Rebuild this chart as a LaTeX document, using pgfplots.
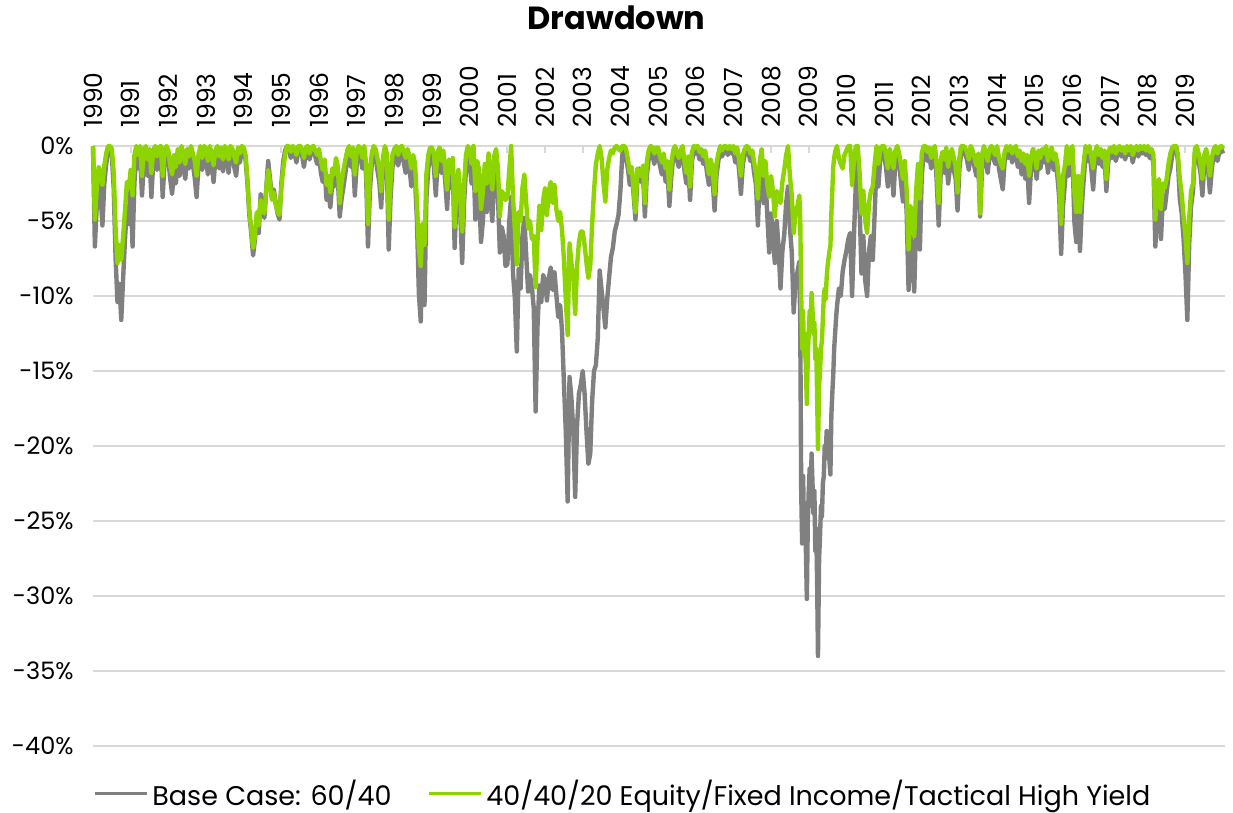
\documentclass[border=0pt]{standalone}
\usepackage{fontspec}
\setmainfont{Poppins}
\usepackage{pgfplots}
\pgfplotsset{compat=1.18}
\usepackage{pgfplotstable}
\definecolor{ggray}{RGB}{128,128,128}
\definecolor{ggreen}{RGB}{141,212,0}
\definecolor{gridc}{RGB}{217,217,217}

\pgfplotstableread{
x g n
1990.00 0 0
1990.05 -6.7 -4.9
1990.10 -4.0 -2.8
1990.15 -2.2 -1.4
1990.20 -3.2 -1.8
1990.25 -5.3 -2.6
1990.30 -2.5 -1.3
1990.35 -1.2 -0.5
1990.40 -0.3 0
1990.45 0 0
1990.50 -0.6 -0.2
1990.55 -2.8 -1.8
1990.60 -7.5 -5.5
1990.65 -10.4 -7.8
1990.70 -9.2 -6.6
1990.75 -11.6 -7.6
1990.80 -8.8 -6.0
1990.85 -6.2 -4.3
1990.90 -4.0 -2.4
1990.95 -5.2 -2.8
1991.00 -2.8 -1.6
1991.05 -6.7 -3.3
1991.10 -2.4 -0.6
1991.15 -0.7 0
1991.20 -1.5 -0.6
1991.25 -0.4 0
1991.30 -3.3 -2.0
1991.35 -1.2 -0.3
1991.40 -0.5 0
1991.45 -2.0 -0.9
1991.50 -0.8 -0.2
1991.55 -3.4 -1.8
1991.60 -1.0 -0.3
1991.65 -0.3 0
1991.70 -1.6 -0.7
1991.75 -0.6 -0.1
1991.80 -0.2 0
1991.85 -3.4 -2.0
1991.90 -1.0 -0.3
1991.95 -0.4 0
1992.00 -0.9 -0.3
1992.05 -2.2 -1.3
1992.10 -3.2 -1.9
1992.15 -1.4 -0.6
1992.20 -2.5 -1.4
1992.25 -0.8 -0.2
1992.30 -2.0 -1.1
1992.35 -0.6 0
1992.40 -1.4 -0.6
1992.45 -2.2 -1.2
1992.50 -0.7 -0.2
1992.55 -1.5 -0.7
1992.60 -0.4 0
1992.65 -1.2 -0.5
1992.70 -2.1 -1.0
1992.75 -3.4 -2.0
1992.80 -1.3 -0.6
1992.85 -0.6 0
1992.90 -1.6 -0.8
1992.95 -0.5 0
1993.00 -0.8 -0.2
1993.05 -1.9 -1.0
1993.10 -0.4 0
1993.15 -1.1 -0.5
1993.20 -2.4 -1.3
1993.25 -0.9 -0.3
1993.30 -0.3 0
1993.35 -1.5 -0.7
1993.40 -0.6 -0.1
1993.45 -1.7 -0.9
1993.50 -0.2 0
1993.55 -0.9 -0.3
1993.60 -1.8 -0.9
1993.65 -0.4 0
1993.70 -0.7 -0.2
1993.75 -1.4 -0.7
1993.80 -2.0 -1.1
1993.85 -0.6 -0.1
1993.90 -1.1 -0.5
1993.95 -0.3 0
1994.00 -0.4 -0.1
1994.05 -0.9 -0.6
1994.10 -2.5 -2.2
1994.15 -4.6 -4.3
1994.20 -5.8 -5.5
1994.25 -7.3 -6.8
1994.30 -6.2 -5.9
1994.35 -4.6 -4.4
1994.40 -5.8 -5.3
1994.45 -3.2 -3.6
1994.50 -4.0 -4.2
1994.55 -4.8 -4.5
1994.60 -2.8 -2.9
1994.65 -1.0 -1.6
1994.70 -2.2 -2.5
1994.75 -3.4 -3.6
1994.80 -2.9 -3.1
1994.85 -3.8 -3.9
1994.90 -4.5 -4.4
1994.95 -4.9 -4.6
1995.00 -2.5 -2.8
1995.05 -1.0 -1.5
1995.10 -0.3 -0.6
1995.15 0 0
1995.20 -0.2 0
1995.25 -0.8 -0.4
1995.30 -0.1 0
1995.35 -0.5 -0.2
1995.40 -1.1 -0.6
1995.45 -0.3 0
1995.50 0 0
1995.55 -0.6 -0.3
1995.60 -1.4 -0.8
1995.65 -0.4 -0.1
1995.70 -0.1 0
1995.75 -0.9 -0.5
1995.80 -0.3 -0.1
1995.85 0 0
1995.90 -0.7 -0.3
1995.95 -1.2 -0.6
1996.00 -0.6 -0.2
1996.05 -1.8 -1.0
1996.10 -2.4 -1.6
1996.15 -1.6 -0.9
1996.20 -3.6 -2.6
1996.25 -3.0 -2.0
1996.30 -4.1 -3.1
1996.35 -2.5 -1.5
1996.40 -2.7 -1.9
1996.45 -1.5 -0.8
1996.50 -2.2 -1.4
1996.55 -4.7 -3.8
1996.60 -3.5 -2.4
1996.65 -2.7 -1.6
1996.70 -1.8 -0.9
1996.75 -0.9 -0.3
1996.80 -0.4 0
1996.85 -1.4 -0.7
1996.90 -0.6 -0.1
1996.95 -3.3 -1.9
1997.00 -1.2 -0.4
1997.05 -0.3 0
1997.10 -0.6 -0.2
1997.15 -1.5 -0.8
1997.20 -0.4 0
1997.25 -2.0 -1.2
1997.30 -6.7 -5.2
1997.35 -3.0 -2.0
1997.40 -1.2 -0.5
1997.45 -0.2 0
1997.50 -0.7 -0.2
1997.55 -1.6 -0.8
1997.60 -2.4 -1.5
1997.65 -4.1 -3.0
1997.70 -1.5 -0.7
1997.75 -0.5 0
1997.80 -1.1 -0.5
1997.85 -6.9 -4.9
1997.90 -3.4 -2.3
1997.95 -1.4 -0.6
1998.00 -0.8 -0.2
1998.05 -0.3 0
1998.10 -1.3 -0.6
1998.15 -0.6 -0.1
1998.20 -0.2 0
1998.25 -1.1 -0.4
1998.30 -1.8 -0.8
1998.35 -0.7 -0.2
1998.40 -1.4 -0.7
1998.45 -2.7 -1.5
1998.50 -1.5 -0.6
1998.55 -2.2 -1.2
1998.60 -5.0 -3.8
1998.65 -9.8 -6.8
1998.70 -11.7 -8.0
1998.75 -6.7 -5.2
1998.80 -10.6 -6.6
1998.85 -3.5 -1.9
1998.90 -1.5 -0.6
1998.95 -0.8 -0.1
1999.00 -0.4 -0.1
1999.05 -1.4 -0.6
1999.10 -3.3 -2.0
1999.15 -1.0 -0.4
1999.20 -0.6 -0.1
1999.25 -1.8 -1.0
1999.30 -0.9 -0.3
1999.35 -2.3 -1.5
1999.40 -4.2 -2.9
1999.45 -1.6 -0.9
1999.50 -2.8 -1.8
1999.55 -1.2 -0.8
1999.60 -6.8 -5.4
1999.65 -3.5 -2.7
1999.70 -2.3 -1.6
1999.75 -4.5 -3.5
1999.80 -7.8 -5.7
1999.85 -3.8 -2.6
1999.90 -1.6 -0.6
1999.95 -0.6 0
2000.00 -1.2 -0.3
2000.05 -2.5 -1.2
2000.10 -0.8 0
2000.15 -4.9 -3.0
2000.20 -2.2 -1.0
2000.25 -3.0 -1.6
2000.30 -6.4 -4.2
2000.35 -5.0 -3.1
2000.40 -2.6 -1.2
2000.45 -4.4 -2.5
2000.50 -1.8 -0.5
2000.55 -3.5 -1.8
2000.60 -5.0 -2.9
2000.65 -2.2 -0.7
2000.70 -1.5 -0.2
2000.75 -3.3 -1.5
2000.80 -7.1 -4.7
2000.85 -5.4 -3.0
2000.90 -6.0 -3.2
2000.95 -8.0 -3.6
2001.00 -7.9 -3.4
2001.05 -5.0 -1.6
2001.10 -3.4 0
2001.15 -8.5 -3.5
2001.20 -10.2 -5.6
2001.25 -13.7 -7.9
2001.30 -8.2 -4.4
2001.35 -9.5 -5.0
2001.40 -6.0 -2.8
2001.45 -4.8 -1.9
2001.50 -7.3 -3.8
2001.55 -9.7 -5.5
2001.60 -8.6 -5.0
2001.65 -9.4 -6.2
2001.70 -10.8 -6.0
2001.75 -17.7 -9.4
2001.80 -12.0 -6.3
2001.85 -9.3 -4.0
2001.90 -10.4 -5.6
2001.95 -8.6 -3.6
2002.00 -9.0 -2.8
2002.05 -10.3 -4.6
2002.10 -8.8 -3.0
2002.15 -8.1 -2.4
2002.20 -9.6 -3.8
2002.25 -8.4 -2.6
2002.30 -9.9 -4.2
2002.35 -11.4 -5.0
2002.40 -10.6 -4.4
2002.45 -12.3 -5.6
2002.50 -15.7 -7.5
2002.55 -19.0 -10.2
2002.60 -23.7 -12.6
2002.65 -15.4 -6.5
2002.70 -16.8 -7.8
2002.75 -19.0 -8.8
2002.80 -23.4 -11.2
2002.85 -18.6 -8.0
2002.90 -16.5 -6.4
2002.95 -15.9 -5.7
2003.00 -15.0 -5.7
2003.05 -16.5 -6.6
2003.10 -19.0 -7.8
2003.15 -21.2 -8.8
2003.20 -20.5 -8.0
2003.25 -17.0 -5.2
2003.30 -15.0 -3.0
2003.35 -14.6 -1.2
2003.40 -12.8 -0.5
2003.45 -8.3 0
2003.50 -9.6 -0.8
2003.55 -10.8 -2.4
2003.60 -12.1 -3.7
2003.65 -10.2 -1.6
2003.70 -8.8 -0.8
2003.75 -7.4 -0.3
2003.80 -6.8 -0.5
2003.85 -5.7 -0.1
2003.90 -5.2 0
2003.95 -4.6 -0.2
2004.00 -3.0 -0.3
2004.05 -0.6 0
2004.10 0 0
2004.15 -0.8 -0.2
2004.20 -1.5 -0.9
2004.25 -2.6 -1.8
2004.30 -1.8 -1.4
2004.35 -3.2 -2.9
2004.40 -4.9 -4.4
2004.45 -2.2 -1.5
2004.50 -1.5 -1.9
2004.55 -2.4 -2.0
2004.60 -1.7 -1.3
2004.65 -4.7 -3.8
2004.70 -2.0 -1.1
2004.75 -0.9 -0.3
2004.80 -0.4 0
2004.85 -0.6 -0.1
2004.90 -1.2 -0.5
2004.95 -0.5 -0.1
2005.00 -0.6 -0.1
2005.05 -1.3 -0.7
2005.10 -1.9 -1.1
2005.15 -1.0 -0.5
2005.20 -2.4 -1.5
2005.25 -1.6 -1.0
2005.30 -4.0 -2.9
2005.35 -2.1 -1.3
2005.40 -0.8 -0.3
2005.45 -0.4 0
2005.50 -0.9 -0.4
2005.55 -1.4 -0.8
2005.60 -0.7 -0.3
2005.65 -0.3 0
2005.70 -1.6 -1.0
2005.75 -2.5 -1.8
2005.80 -1.2 -0.7
2005.85 -3.6 -2.7
2005.90 -1.0 -0.4
2005.95 -0.4 0
2006.00 -0.5 -0.1
2006.05 -0.3 0
2006.10 -0.9 -0.4
2006.15 -0.6 -0.2
2006.20 -1.2 -0.7
2006.25 -0.8 -0.3
2006.30 -1.8 -1.1
2006.35 -2.6 -1.9
2006.40 -1.5 -0.9
2006.45 -2.3 -1.6
2006.50 -4.3 -3.2
2006.55 -2.0 -1.2
2006.60 -1.0 -0.5
2006.65 -0.4 0
2006.70 -0.7 -0.3
2006.75 -0.3 0
2006.80 -0.1 0
2006.85 -0.6 -0.2
2006.90 -0.2 0
2006.95 -0.5 -0.2
2007.00 -0.3 0
2007.05 -1.1 -0.5
2007.10 -0.4 -0.1
2007.15 -1.6 -0.9
2007.20 -3.2 -2.0
2007.25 -1.2 -0.6
2007.30 -0.6 -0.2
2007.35 -0.2 0
2007.40 -0.4 -0.1
2007.45 -1.0 -0.5
2007.50 -0.7 -0.3
2007.55 -1.8 -1.1
2007.60 -2.6 -1.8
2007.65 -5.3 -3.5
2007.70 -2.0 -1.0
2007.75 -1.2 -0.2
2007.80 -3.8 -2.0
2007.85 -2.2 -1.0
2007.90 -4.6 -2.6
2007.95 -7.1 -3.4
2008.00 -4.5 -2.0
2008.05 -6.0 -3.0
2008.10 -7.8 -4.7
2008.15 -5.0 -3.0
2008.20 -6.8 -3.4
2008.25 -9.5 -3.8
2008.30 -7.0 -2.4
2008.35 -5.9 -1.6
2008.40 -3.8 -0.6
2008.45 -2.7 0
2008.50 -5.4 -2.0
2008.55 -7.1 -3.3
2008.60 -11.1 -5.8
2008.65 -9.0 -4.5
2008.70 -8.4 -4.0
2008.75 -7.7 -3.3
2008.775 -12.0 -5.0
2008.800 -23.0 -10.0
2008.825 -26.5 -13.5
2008.850 -22.0 -11.0
2008.875 -25.5 -14.0
2008.900 -24.0 -12.5
2008.925 -27.0 -15.0
2008.950 -30.2 -17.2
2008.975 -25.0 -14.0
2009.000 -23.0 -12.5
2009.025 -21.5 -11.0
2009.050 -24.0 -12.0
2009.075 -20.5 -9.8
2009.100 -22.5 -11.0
2009.125 -24.5 -12.5
2009.150 -23.0 -11.8
2009.175 -27.0 -14.2
2009.200 -25.5 -13.5
2009.225 -29.5 -17.0
2009.245 -34.0 -20.2
2009.275 -27.5 -16.0
2009.300 -26.0 -15.0
2009.325 -24.0 -13.5
2009.350 -24.7 -13.0
2009.375 -22.5 -11.5
2009.400 -22.0 -10.0
2009.425 -20.0 -9.5
2009.450 -20.8 -10.2
2009.475 -19.0 -8.8
2009.500 -20.0 -8.0
2009.525 -19.5 -7.5
2009.550 -21.0 -7.0
2009.575 -21.9 -6.7
2009.600 -18.0 -4.5
2009.625 -16.5 -3.0
2009.650 -15.3 -1.4
2009.675 -13.5 -0.8
2009.700 -12.5 -0.4
2009.725 -11.5 -0.2
2009.750 -10.7 0
2009.800 -9.5 -0.8
2009.850 -10.0 -1.2
2009.900 -8.4 -1.5
2009.950 -7.6 -0.6
2010.00 -7.0 -0.3
2010.05 -6.2 0
2010.10 -5.8 0
2010.15 -10.0 -2.6
2010.20 -6.0 -1.0
2010.25 -2.5 0
2010.30 -0.5 0
2010.35 -4.0 -1.8
2010.40 -8.5 -4.5
2010.45 -6.0 -3.0
2010.50 -9.0 -5.0
2010.55 -10.0 -5.8
2010.60 -7.0 -3.8
2010.65 -6.0 -3.0
2010.70 -7.6 -2.7
2010.75 -4.5 -1.2
2010.80 -1.2 0
2010.85 -2.7 -1.2
2010.90 -0.8 -0.2
2010.95 -0.3 0
2011.00 -0.6 0
2011.05 -1.4 -0.6
2011.10 -2.7 -1.5
2011.15 -0.8 -0.2
2011.20 -1.5 -0.7
2011.25 -3.3 -1.5
2011.30 -1.0 -0.3
2011.35 -0.4 0
2011.40 -1.2 -0.5
2011.45 -2.4 -1.3
2011.50 -3.7 -2.2
2011.55 -1.8 -1.0
2011.60 -4.5 -3.0
2011.65 -9.6 -6.9
2011.70 -6.0 -4.0
2011.75 -7.5 -4.8
2011.80 -9.7 -6.0
2011.85 -5.0 -3.0
2011.90 -3.5 -1.2
2011.95 -6.9 -3.5
2012.00 -2.0 -0.5
2012.05 -0.5 0
2012.10 -0.2 0
2012.15 -1.0 -0.4
2012.20 -0.6 -0.1
2012.25 -1.5 -0.8
2012.30 -0.8 -0.2
2012.35 -0.3 0
2012.40 -2.5 -1.5
2012.45 -5.3 -3.8
2012.50 -2.0 -1.0
2012.55 -1.0 -0.4
2012.60 -1.8 -0.9
2012.65 -0.6 -0.1
2012.70 -2.5 -1.4
2012.75 -1.4 -0.6
2012.80 -0.7 -0.2
2012.85 -1.6 -0.8
2012.90 -2.2 -1.3
2012.95 -4.3 -3.1
2013.00 -1.5 -0.8
2013.05 -0.4 0
2013.10 -0.1 0
2013.15 -0.5 -0.1
2013.20 -0.9 -0.4
2013.25 -1.6 -0.9
2013.30 -0.3 0
2013.35 -0.7 -0.3
2013.40 -1.4 -0.8
2013.45 -2.0 -1.3
2013.50 -1.0 -0.5
2013.55 -4.7 -4.5
2013.60 -1.5 -0.6
2013.65 -0.5 0
2013.70 -1.0 -0.5
2013.75 -1.8 -1.0
2013.80 -0.6 -0.2
2013.85 -0.2 0
2013.90 -0.8 -0.3
2013.95 -1.2 -0.6
2014.00 -0.4 0
2014.05 -1.5 -0.8
2014.10 -2.2 -1.2
2014.15 -2.9 -1.5
2014.20 -1.0 -0.4
2014.25 -0.5 0
2014.30 -0.8 -0.3
2014.35 -0.3 0
2014.40 -1.1 -0.5
2014.45 -0.6 -0.2
2014.50 -0.4 0
2014.55 -1.4 -0.7
2014.60 -0.7 -0.3
2014.65 -1.9 -1.0
2014.70 -1.0 -0.5
2014.75 -2.2 -1.2
2014.80 -1.3 -0.6
2014.85 -3.8 -2.0
2014.90 -1.5 -0.8
2014.95 -0.7 -0.2
2015.00 -1.2 -0.6
2015.05 -2.2 -1.5
2015.10 -0.8 -0.3
2015.15 -1.5 -0.8
2015.20 -0.6 -0.2
2015.25 -1.1 -0.5
2015.30 -0.4 0
2015.35 -1.8 -1.0
2015.40 -0.9 -0.4
2015.45 -0.5 -0.1
2015.50 -1.6 -0.9
2015.55 -1.0 -0.5
2015.60 -2.0 -1.2
2015.65 -3.5 -2.5
2015.70 -7.2 -5.2
2015.75 -4.0 -2.0
2015.80 -2.5 -1.3
2015.85 -1.0 0
2015.90 -2.0 -1.2
2015.95 -0.8 -0.3
2016.00 -0.3 0
2016.05 -5.0 -3.0
2016.10 -6.4 -4.4
2016.15 -3.5 -2.0
2016.20 -7.0 -4.4
2016.25 -4.0 -2.4
2016.30 -2.2 -1.1
2016.35 -0.5 0
2016.40 -1.0 -0.4
2016.45 -0.4 0
2016.50 -1.5 -0.7
2016.55 -2.9 -1.5
2016.60 -1.0 -0.4
2016.65 -0.5 0
2016.70 -1.2 -0.6
2016.75 -0.6 -0.2
2016.80 -1.4 -0.8
2016.85 -0.7 -0.3
2016.90 -3.0 -2.2
2016.95 -1.1 -0.5
2017.00 -0.4 -0.1
2017.05 -0.8 -0.4
2017.10 -0.3 0
2017.15 -1.0 -0.5
2017.20 -0.5 -0.2
2017.25 -0.2 0
2017.30 -0.7 -0.3
2017.35 -0.4 -0.1
2017.40 -0.9 -0.5
2017.45 -0.3 0
2017.50 -0.6 -0.3
2017.55 -0.2 0
2017.60 -1.1 -0.6
2017.65 -0.5 -0.2
2017.70 -0.3 0
2017.75 -0.7 -0.3
2017.80 -0.2 0
2017.85 -0.5 -0.2
2017.90 -0.3 0
2017.95 -0.6 -0.3
2018.00 -0.3 0
2018.05 -0.8 -0.4
2018.10 -0.5 -0.2
2018.15 -1.2 -0.6
2018.20 -6.7 -4.9
2018.25 -4.5 -3.0
2018.30 -3.0 -2.2
2018.35 -6.2 -4.2
2018.40 -3.5 -2.5
2018.45 -4.2 -2.8
2018.50 -3.1 -2.2
2018.55 -2.0 -1.2
2018.60 -1.5 -0.5
2018.65 -0.6 -0.1
2018.70 -0.1 0
2018.75 0 0
2018.80 -1.0 -0.6
2018.85 -3.5 -2.2
2018.90 -4.5 -3.2
2018.95 -6.2 -4.7
2019.00 -8.5 -6.0
2019.05 -11.6 -7.8
2019.10 -6.5 -4.8
2019.15 -4.0 -3.0
2019.20 -3.0 -2.5
2019.25 -0.5 -0.2
2019.30 -0.2 0
2019.35 -1.0 -0.5
2019.40 -1.8 -1.2
2019.45 -3.3 -2.2
2019.50 -1.2 -0.6
2019.55 -0.6 -0.2
2019.60 -1.5 -0.9
2019.65 -3.1 -2.0
2019.70 -1.5 -0.8
2019.75 -0.6 -0.2
2019.80 -0.3 0
2019.85 -1.0 -0.5
2019.90 -0.4 -0.1
2019.95 -0.2 0
2020.00 -0.5 -0.2
}\dd

\begin{document}
\begin{tikzpicture}
\useasboundingbox (-46.5pt,-33.5pt) rectangle (570pt,373pt);
\begin{axis}[
  at={(0pt,0pt)}, anchor=south west,
  scale only axis, width=566pt, height=300pt,
  xmin=1990, xmax=2020.05, ymin=-40, ymax=0,
  clip=false,
  axis line style={draw=none},
  xtick={1990,1991,...,2019},
  xticklabels={1990,1991,1992,1993,1994,1995,1996,1997,1998,1999,2000,2001,2002,2003,2004,2005,2006,2007,2008,2009,2010,2011,2012,2013,2014,2015,2016,2017,2018,2019},
  xtick pos=upper, xticklabel pos=upper,
  xticklabel style={rotate=90, anchor=west, inner sep=0pt, font=\fontsize{12.5}{14}\selectfont},
  xticklabel shift=9pt,
  tick align=inside,
  x tick style={gridc, line width=1pt},
  major tick length=3.5pt,
  ytick={0,-5,-10,-15,-20,-25,-30,-35,-40},
  yticklabels={0\%,-5\%,-10\%,-15\%,-20\%,-25\%,-30\%,-35\%,-40\%},
  ytick style={draw=none},
  yticklabel style={anchor=east, inner sep=0pt, xshift=-9.5pt, font=\fontsize{12}{14}\selectfont},
  ymajorgrids, grid style={gridc, line width=1pt},
  legend columns=2,
  legend style={at={(axis description cs:0.469,-0.080)}, anchor=center, draw=none, fill=none,
    font=\fontsize{13.5}{15}\selectfont, inner sep=0pt,
    /tikz/every even column/.append style={column sep=16pt}},
  legend image code/.code={\draw[#1, line width=1.5pt] (0pt,0pt) -- (26pt,0pt);},
]
\addplot[ggray, line width=2.2pt, line join=round] table[x=x, y=g] {\dd};
\addlegendentry{Base Case: 60/40}
\addplot[ggreen, line width=2.2pt, line join=round] table[x=x, y=n] {\dd};
\addlegendentry{40/40/20 Equity/Fixed Income/Tactical High Yield}
\end{axis}
\node[font=\bfseries\fontsize{16}{18}\selectfont] at (261.75pt,364pt) {Drawdown};
\end{tikzpicture}
\end{document}
